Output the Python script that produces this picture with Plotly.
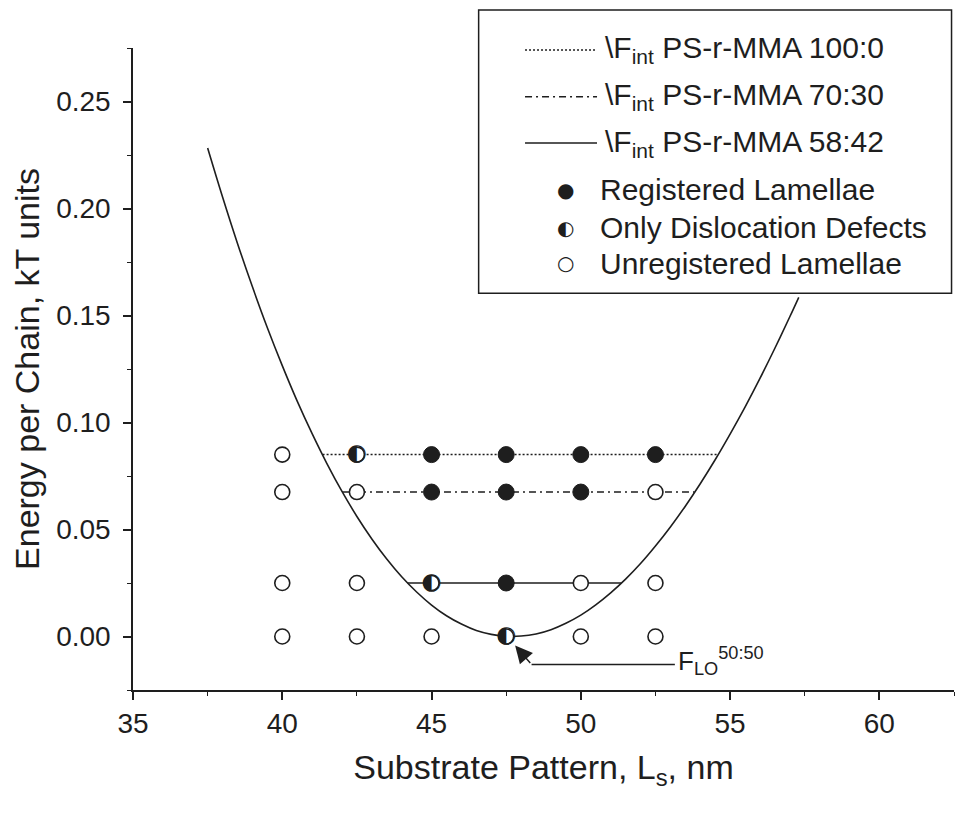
import plotly.graph_objects as go

# ---------------- data ----------------
# Free-energy curve of the lamellae vs substrate pattern period
curve_x = [37.5, 38.0, 38.5, 39.0, 39.5, 40.0, 40.5, 41.0, 41.5, 42.0, 42.5, 43.0, 43.5,
           44.0, 44.5, 45.0, 45.5, 46.0, 46.5, 47.0, 47.5, 48.0, 48.5, 49.0, 49.5, 50.0,
           50.5, 51.0, 51.5, 52.0, 52.5, 53.0, 53.5, 54.0, 54.5, 55.0, 55.5, 56.0, 56.5,
           57.0, 57.3]
curve_y = [0.2283, 0.2054, 0.1837, 0.1634, 0.1443, 0.1266, 0.1100, 0.0948, 0.0807, 0.0678,
           0.0561, 0.0456, 0.0362, 0.0279, 0.0208, 0.0147, 0.0097, 0.0058, 0.0028, 0.0010,
           0.0001, 0.0002, 0.0012, 0.0032, 0.0062, 0.0100, 0.0148, 0.0204, 0.0268, 0.0341,
           0.0423, 0.0512, 0.0609, 0.0714, 0.0826, 0.0946, 0.1072, 0.1206, 0.1347, 0.1494,
           0.1585]

# Interfacial energy levels (horizontal lines between curve crossings)
dF_100_x = [41.35, 54.6]
dF_100_y = [0.085, 0.085]
dF_70_x = [42.0, 53.8]
dF_70_y = [0.0675, 0.0675]
dF_58_x = [44.2, 51.35]
dF_58_y = [0.025, 0.025]

# Experimental observations
registered_x = [45, 47.5, 50, 52.5, 45, 47.5, 50, 47.5]
registered_y = [0.085, 0.085, 0.085, 0.085, 0.0675, 0.0675, 0.0675, 0.025]
dislocation_x = [42.5, 45, 47.5]
dislocation_y = [0.085, 0.025, 0.0]
unregistered_x = [40, 40, 42.5, 52.5, 40, 42.5, 50, 52.5, 40, 42.5, 45, 50, 52.5]
unregistered_y = [0.085, 0.0675, 0.0675, 0.0675, 0.025, 0.025, 0.025, 0.025,
                  0.0, 0.0, 0.0, 0.0, 0.0]

x_ticks = [35, 40, 45, 50, 55, 60]
y_ticks = [0.00, 0.05, 0.10, 0.15, 0.20, 0.25]

legend_line_labels = ["\\F<sub>int</sub> PS-r-MMA 100:0",
                      "\\F<sub>int</sub> PS-r-MMA 70:30",
                      "\\F<sub>int</sub> PS-r-MMA 58:42"]
legend_marker_labels = ["Registered Lamellae", "Only Dislocation Defects",
                        "Unregistered Lamellae"]

# ---------------- styling ----------------
FONT = "Liberation Sans, Arial, sans-serif"
GLYPH_FONT = "DejaVu Sans"
INK = "#1e1e1e"
DOT = "2px,2px"
DASHDOT = "7px,4px,2px,4px"

fig = go.Figure()

fig.add_trace(go.Scatter(x=curve_x, y=curve_y, mode="lines",
                         line=dict(color=INK, width=1.6, shape="spline"),
                         showlegend=False, hoverinfo="skip"))
fig.add_trace(go.Scatter(x=dF_100_x, y=dF_100_y, mode="lines",
                         line=dict(color=INK, width=1.5, dash=DOT),
                         showlegend=False, hoverinfo="skip"))
fig.add_trace(go.Scatter(x=dF_70_x, y=dF_70_y, mode="lines",
                         line=dict(color=INK, width=1.5, dash=DASHDOT),
                         showlegend=False, hoverinfo="skip"))
fig.add_trace(go.Scatter(x=dF_58_x, y=dF_58_y, mode="lines",
                         line=dict(color=INK, width=1.5),
                         showlegend=False, hoverinfo="skip"))

fig.add_trace(go.Scatter(x=unregistered_x, y=unregistered_y, mode="markers",
                         marker=dict(symbol="circle", size=15, color="white",
                                     line=dict(color=INK, width=1.6)),
                         showlegend=False))
fig.add_trace(go.Scatter(x=registered_x, y=registered_y, mode="markers",
                         marker=dict(symbol="circle", size=16, color=INK,
                                     line=dict(color=INK, width=1)),
                         showlegend=False))
fig.add_trace(go.Scatter(x=dislocation_x, y=dislocation_y, mode="markers",
                         marker=dict(symbol="circle", size=15, color="white",
                                     line=dict(color=INK, width=1.6)),
                         showlegend=False))
fig.add_trace(go.Scatter(x=dislocation_x, y=dislocation_y, mode="text",
                         text=["\u25D0"] * len(dislocation_x),
                         textposition="middle center",
                         textfont=dict(family=GLYPH_FONT, size=23, color=INK),
                         showlegend=False, hoverinfo="skip"))

# ---------------- custom legend box (paper coordinates) ----------------
shapes = [dict(type="rect", xref="paper", yref="paper", x0=0.421, x1=0.997,
               y0=0.618, y1=1.059, line=dict(color=INK, width=1.5),
               fillcolor="white", layer="above")]
annotations = []
line_rows = [0.997, 0.924, 0.852]
line_dashes = [DOT, DASHDOT, "solid"]
for yy, dash, lab in zip(line_rows, line_dashes, legend_line_labels):
    shapes.append(dict(type="line", xref="paper", yref="paper", x0=0.4775, x1=0.5652,
                       y0=yy, y1=yy, line=dict(color=INK, width=1.5, dash=dash),
                       layer="above"))
    annotations.append(dict(xref="paper", yref="paper", x=0.572, y=yy, text=lab,
                            showarrow=False, xanchor="left", yanchor="middle",
                            font=dict(family=FONT, size=30, color=INK)))
marker_rows = [0.779, 0.720, 0.665]
marker_glyphs = ["\u25CF", "\u25D0", "\u25CB"]
for yy, g, lab in zip(marker_rows, marker_glyphs, legend_marker_labels):
    annotations.append(dict(xref="paper", yref="paper", x=0.5262, y=yy, text=g,
                            showarrow=False, xanchor="center", yanchor="middle",
                            font=dict(family=GLYPH_FONT, size=20, color=INK)))
    annotations.append(dict(xref="paper", yref="paper", x=0.566, y=yy, text=lab,
                            showarrow=False, xanchor="left", yanchor="middle",
                            font=dict(family=FONT, size=30, color=INK)))

# ---------------- F_LO annotation with arrow ----------------
flo_text_x, flo_text_y = 53.2, -0.0115
arrow_tail_x, arrow_tail_y = 48.35, -0.0131
arrow_head_x, arrow_head_y = 47.8, -0.0042
shapes.append(dict(type="line", xref="x", yref="y", x0=arrow_tail_x, x1=53.15,
                   y0=arrow_tail_y, y1=arrow_tail_y, line=dict(color=INK, width=1.5)))
annotations.append(dict(x=arrow_head_x, y=arrow_head_y, ax=arrow_tail_x, ay=arrow_tail_y,
                        axref="x", ayref="y", xref="x", yref="y", text="",
                        showarrow=True, arrowhead=2, arrowsize=2.3, arrowwidth=1.5,
                        arrowcolor=INK))
annotations.append(dict(x=flo_text_x, y=flo_text_y, xref="x", yref="y",
                        text="F<sub>LO</sub><sup>50:50</sup>", showarrow=False,
                        xanchor="left", yanchor="middle",
                        font=dict(family=FONT, size=26, color=INK)))

axis_common = dict(showline=True, linecolor=INK, linewidth=1.5, showgrid=False,
                   zeroline=False, ticks="outside", ticklen=8, tickwidth=1.5,
                   tickcolor=INK, automargin=False,
                   tickfont=dict(family=FONT, size=28, color=INK))

# The page body adds an 8px offset, so the figure is sized to fill the rest.
fig.update_layout(
    width=964, height=809,
    paper_bgcolor="white", plot_bgcolor="white",
    margin=dict(l=125, r=18, t=40, b=127),
    showlegend=False,
    font=dict(family=FONT, color=INK),
    xaxis=dict(range=[35, 62.5], tickvals=x_ticks, ticklabelstandoff=0,
               minor=dict(ticks="outside", ticklen=4, dtick=2.5, tick0=35,
                          tickcolor=INK, tickwidth=1.2, showgrid=False),
               title=dict(text="Substrate Pattern, L<sub>s</sub>, nm",
                          font=dict(family=FONT, size=34, color=INK), standoff=17),
               **axis_common),
    yaxis=dict(range=[-0.025, 0.275], tickvals=y_ticks, tickformat=".2f",
               ticklabelstandoff=7,
               minor=dict(ticks="outside", ticklen=4, dtick=0.025, tick0=0,
                          tickcolor=INK, tickwidth=1.2, showgrid=False),
               title=dict(text="Energy per Chain, kT units",
                          font=dict(family=FONT, size=34, color=INK), standoff=8),
               **axis_common),
    shapes=shapes,
    annotations=annotations,
)

fig.write_html("out.html")
